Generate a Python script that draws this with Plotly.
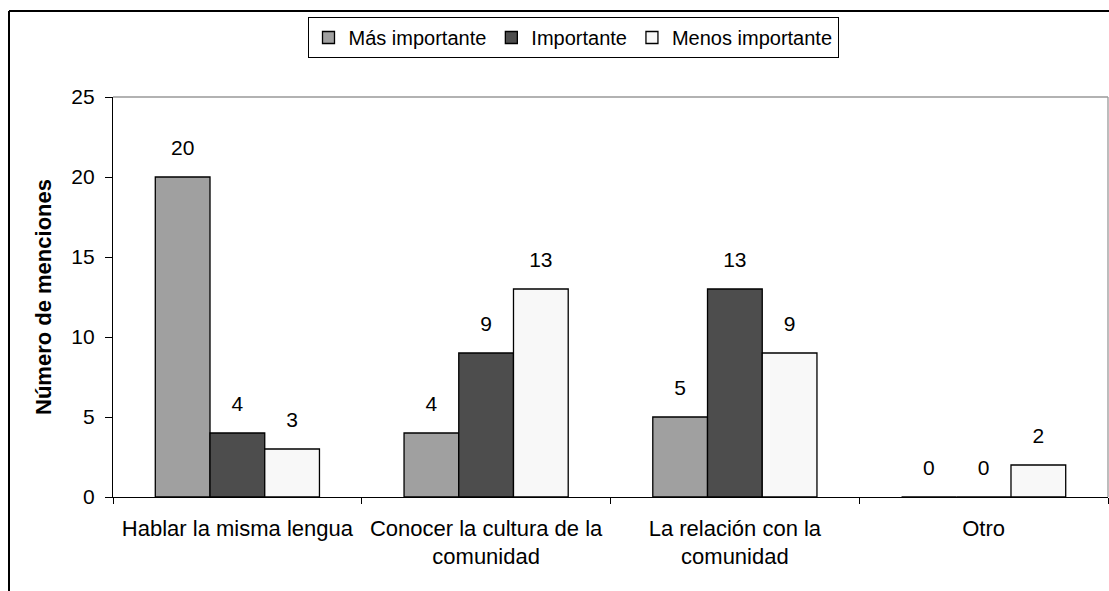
import plotly.graph_objects as go

# Categories and series values
categories = [
    "Hablar la misma lengua",
    "Conocer la cultura de la<br>comunidad",
    "La relación con la<br>comunidad",
    "Otro",
]
mas_importante = [20, 4, 5, 0]
importante = [4, 9, 13, 0]
menos_importante = [3, 13, 9, 2]

series = [
    ("Más importante", mas_importante, "#a0a0a0"),
    ("Importante", importante, "#4d4d4d"),
    ("Menos importante", menos_importante, "#f8f8f8"),
]

fig = go.Figure()
for name, values, color in series:
    fig.add_trace(
        go.Bar(
            name=name,
            x=categories,
            y=values,
            marker=dict(color=color, line=dict(color="black", width=1.3)),
            hoverinfo="skip",
        )
    )

# Value labels: grouped scatter text so they sit a little above each bar, like Excel
for name, values, color in series:
    fig.add_trace(
        go.Scatter(
            x=categories,
            y=values,
            mode="markers+text",
            text=[str(v) for v in values],
            textposition="top center",
            textfont=dict(size=21, color="black"),
            marker=dict(size=26, opacity=0),
            showlegend=False,
            cliponaxis=False,
            hoverinfo="skip",
        )
    )

W, H = 1109, 591
ml, mr, mt, mb = 113, 1, 97, 94
pw, ph = W - ml - mr, H - mt - mb

fig.update_layout(
    width=W,
    height=H,
    barmode="group",
    bargap=0.34,
    bargroupgap=0,
    scattermode="group",
    scattergap=0.34,
    plot_bgcolor="white",
    paper_bgcolor="white",
    font=dict(family="Liberation Sans, Arial, sans-serif", size=21, color="black"),
    margin=dict(l=ml, r=mr, t=mt, b=mb),
    showlegend=True,
    legend=dict(
        orientation="h",
        x=(573 - ml) / pw,
        y=1 + (mt - 17) / ph,
        xanchor="center",
        yanchor="top",
        bordercolor="black",
        borderwidth=1,
        font=dict(size=20),
        itemwidth=30,
        traceorder="normal",
    ),
    xaxis=dict(
        showline=True,
        linecolor="black",
        linewidth=1.3,
        ticks="outside",
        tickson="boundaries",
        ticklen=6,
        tickcolor="black",
        showgrid=False,
        tickfont=dict(size=22),
        ticklabelstandoff=11,
    ),
    yaxis=dict(
        range=[0, 25],
        dtick=5,
        showline=True,
        linecolor="black",
        linewidth=1.3,
        ticks="outside",
        ticklen=7,
        tickcolor="black",
        showgrid=False,
        zeroline=False,
        tickfont=dict(size=21),
        ticklabelstandoff=6,
        title=dict(
            text="<b>Número de menciones</b>",
            font=dict(size=22),
            standoff=13,
        ),
    ),
)

# Gray border on top and right of the plot area
fig.add_shape(type="line", xref="paper", yref="paper", x0=0, x1=1, y0=1, y1=1,
              line=dict(color="#999999", width=1.3))
fig.add_shape(type="line", xref="paper", yref="paper", x0=1, x1=1, y0=0, y1=1,
              line=dict(color="#999999", width=1.3))

# Outer chart frame (left and top edges visible)
fx0 = (9 - ml) / pw
fy1 = 1 + (mt - 11) / ph
fig.add_shape(type="line", xref="paper", yref="paper", x0=fx0, x1=1.1, y0=fy1, y1=fy1,
              line=dict(color="black", width=2))
fig.add_shape(type="line", xref="paper", yref="paper", x0=fx0, x1=fx0, y0=-0.5, y1=fy1,
              line=dict(color="black", width=2))

fig.write_html(
    "out.html",
    config={"displayModeBar": False},
    post_script="document.body.style.margin='0px';",
)
